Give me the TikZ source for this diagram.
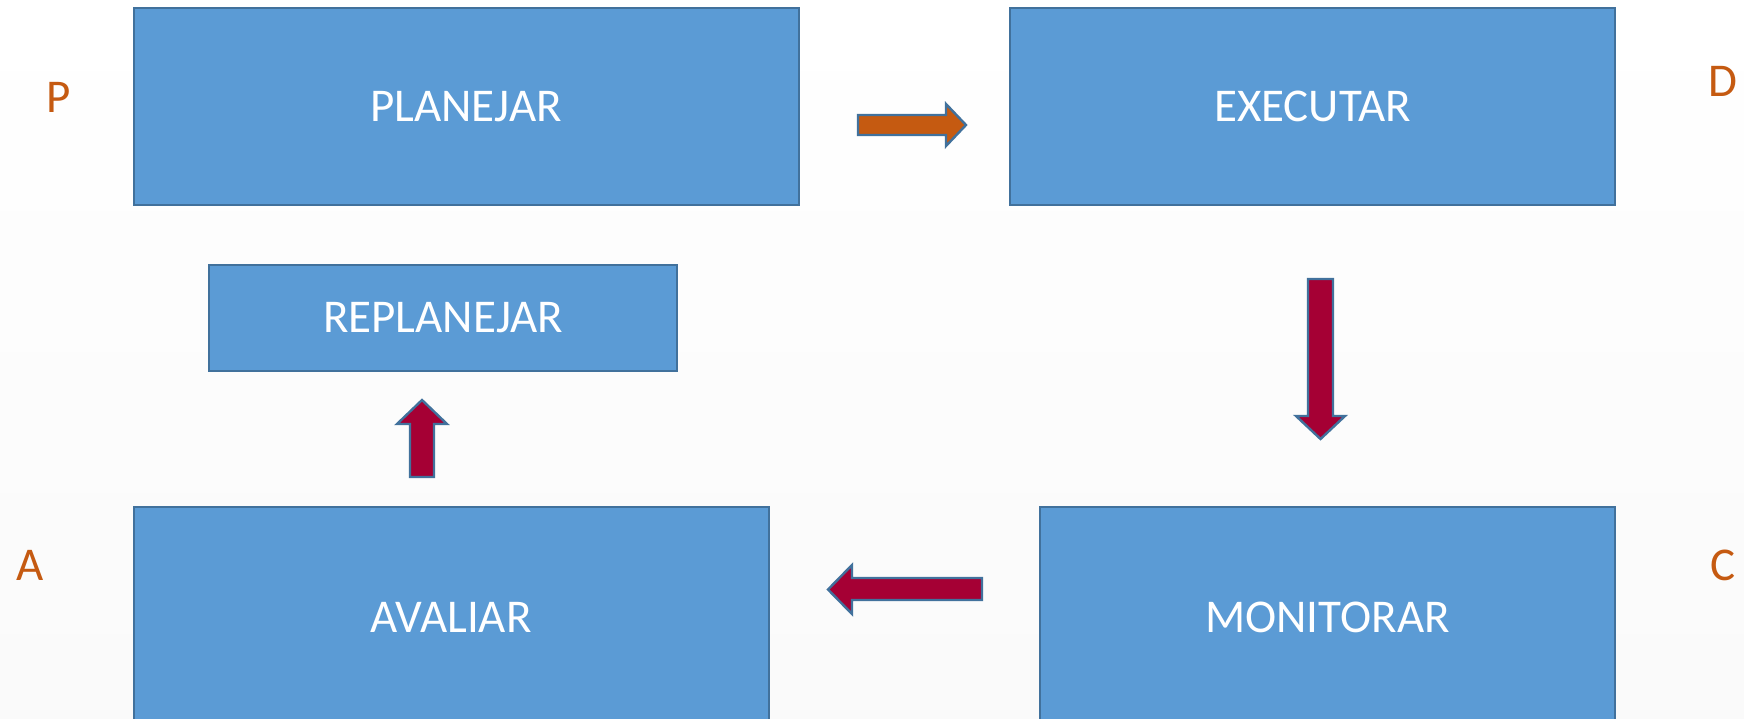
\documentclass[tikz,border=0pt]{standalone}
\usepackage{fontspec}
\setmainfont{Carlito}
\usetikzlibrary{fit}
\definecolor{boxfill}{HTML}{5B9BD5}
\definecolor{boxline}{HTML}{41719C}
\definecolor{orangeA}{HTML}{C55A11}
\definecolor{crimsonA}{HTML}{A50034}
\tikzset{
  box/.style={draw=boxline, line width=1pt, fill=boxfill, inner sep=0pt},
  boxtext/.style={text=white, font=\fontsize{23.5}{28}\selectfont, inner sep=0pt},
  letter/.style={text=orangeA, font=\fontsize{23.5}{28}\selectfont, inner sep=0pt},
  blockarrow/.style={draw=boxline, line width=1.2pt, line join=miter},
}
\begin{document}
\begin{tikzpicture}[x=0.5pt,y=-0.5pt]
\useasboundingbox (0,0) rectangle (1744,718);
\shade[top color=white, bottom color=black!2] (0,0) rectangle (1744,718);
% boxes
\node[box, fit={(133.5,7.8) (798.6,204.6)}] (plan) {};
\node[box, fit={(1010,7.8) (1615,204.6)}] (exec) {};
\node[box, fit={(209,265) (677,370.5)}] (replan) {};
\node[box, fit={(133.5,507) (768.5,727)}] (aval) {};
\node[box, fit={(1040,507) (1615,727)}] (mon) {};
\node[boxtext] (plant) at (plan.center) {PLANEJAR};
\node[boxtext] (exect) at (exec.center) {EXECUTAR};
\node[boxtext] (replant) at (replan.center) {REPLANEJAR};
\node[boxtext] (avalt) at (aval.center) {AVALIAR};
\node[boxtext] (mont) at (mon.center) {MONITORAR};
% letters
\node[letter] (p) at (59,97) {P};
\node[letter] (d) at (1723,81) {D};
\node[letter] (a) at (30,565) {A};
\node[letter] (c) at (1723,565) {C};
% block arrows
\draw[blockarrow, fill=orangeA] (858,115)--(946,115)--(946,104)--(966,125)--(946,146)--(946,135)--(858,135)--cycle;
\draw[blockarrow, fill=crimsonA] (1308,279)--(1333,279)--(1333,416)--(1345,416)--(1320.5,439)--(1296,416)--(1308,416)--cycle;
\draw[blockarrow, fill=crimsonA] (982,578)--(852,578)--(852,565)--(828,589.5)--(852,614)--(852,600)--(982,600)--cycle;
\draw[blockarrow, fill=crimsonA] (410,477)--(434,477)--(434,424)--(447,424)--(422,400)--(397,424)--(410,424)--cycle;
\end{tikzpicture}
\end{document}
